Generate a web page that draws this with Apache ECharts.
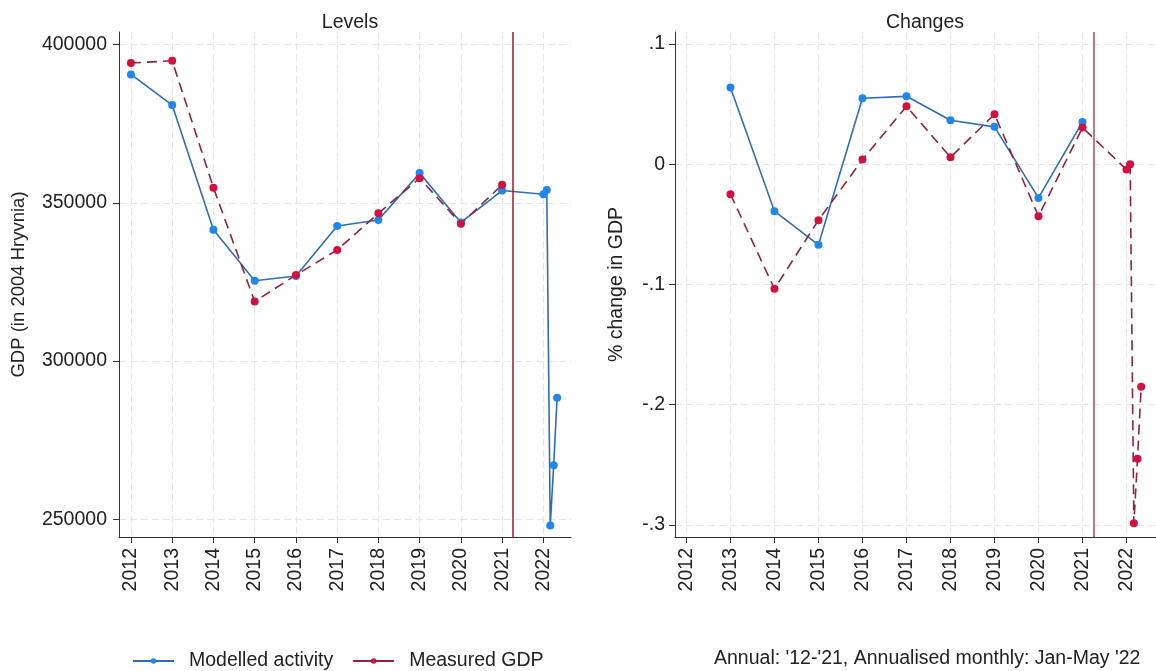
<!DOCTYPE html>
<html>
<head>
<meta charset="utf-8">
<script src="https://cdn.jsdelivr.net/npm/echarts@6/dist/echarts.min.js"></script>
<style>
  html, body { margin: 0; padding: 0; background: #fff; }
  #chart { width: 1156px; height: 671px; }
</style>
</head>
<body>
<div id="chart"></div>
<script>
// x positions: annual points, then monthly 2022 points (Jan-May)
var years = [2012, 2013, 2014, 2015, 2016, 2017, 2018, 2019, 2020, 2021];
var changeYears = [2013, 2014, 2015, 2016, 2017, 2018, 2019, 2020, 2021];
var months2022 = [2022.0, 2022.083, 2022.167, 2022.25, 2022.333];

// tick labels
var yearTicks = [2012, 2013, 2014, 2015, 2016, 2017, 2018, 2019, 2020, 2021, 2022];
var levelTicks = [250000, 300000, 350000, 400000];
var changeTicks = [-0.3, -0.2, -0.1, 0, 0.1];

// Levels (GDP in 2004 Hryvnia)
var levelsModelled = [390600, 380900, 341500, 325400, 326900, 342700, 344600, 359400, 343800, 353900];
var levelsModelled2022 = [352700, 354100, 248000, 267100, 288400];
var levelsMeasured = [394200, 394900, 354800, 318800, 327200, 335100, 346700, 357800, 343400, 355700];

// Changes (% change in GDP)
var changesModelled = [0.0638, -0.039, -0.067, 0.0549, 0.0565, 0.0366, 0.0311, -0.028, 0.0352];
var changesMeasured = [-0.0249, -0.1036, -0.0465, 0.0039, 0.0482, 0.0058, 0.0416, -0.0432, 0.0305];
var changesMeasured2022 = [-0.0044, 0.0, -0.2986, -0.245, -0.185];

var cutoff = 2021.25;

function pairs(xs, ys) {
    return xs.map(function (x, i) { return [x, ys[i]]; });
}

var chartDom = document.getElementById('chart');
var myChart = echarts.init(chartDom);
var option;

var font = 'Liberation Sans, Arial, sans-serif';
var fs = 19.5;
var blueDot = '#1f87ea', blueLine = '#2f6db5';
var redDot = '#d3103f', redLine = '#8e2340';
var gridLine = { show: true, lineStyle: { color: '#e6e6e6', width: 1, type: [7, 4] } };

function xAxisFor(gridIndex, min) {
    return {
        type: 'value', gridIndex: gridIndex, min: min, max: 2022.67,
        axisLine: { show: true, onZero: false, lineStyle: { color: '#333', width: 1 } },
        axisTick: { show: true, length: 6, lineStyle: { color: '#333' }, customValues: yearTicks },
        axisLabel: {
            customValues: yearTicks, rotate: 90, margin: 11, fontSize: fs, color: '#222',
            formatter: function (v) { return String(v); }
        },
        splitLine: gridLine
    };
}

function markCutoff(color) {
    return {
        silent: true, symbol: 'none', animation: false,
        label: { show: false },
        lineStyle: { color: color, width: 1.5, type: 'solid' },
        data: [{ xAxis: cutoff }]
    };
}

option = {
    animation: false,
    textStyle: { fontFamily: font },
    title: [
        { text: 'Levels', left: 345, top: 8, textAlign: 'center',
          textStyle: { fontSize: fs, fontWeight: 'normal', color: '#222' } },
        { text: 'Changes', left: 920, top: 8, textAlign: 'center',
          textStyle: { fontSize: fs, fontWeight: 'normal', color: '#222' } },
        { text: "Annual: '12-'21, Annualised monthly: Jan-May '22", left: 709, top: 644,
          textStyle: { fontSize: fs, fontWeight: 'normal', color: '#222' } }
    ],
    legend: {
        left: 127, top: 646, itemWidth: 41, itemHeight: 7, itemGap: 19,
        lineStyle: { type: 'solid' },
        textStyle: { fontSize: fs, color: '#222', padding: [0, 0, 0, 10] },
        data: ['Modelled activity', 'Measured GDP']
    },
    grid: [
        { left: 119, top: 32, width: 452, height: 505 },
        { left: 675, top: 32, width: 490, height: 505 }
    ],
    xAxis: [xAxisFor(0, 2011.71), xAxisFor(1, 2011.74)],
    yAxis: [
        {
            type: 'value', gridIndex: 0, min: 244400, max: 404000,
            name: 'GDP (in 2004 Hryvnia)', nameLocation: 'middle', nameGap: 91,
            nameTextStyle: { fontSize: 18.5, color: '#222' },
            axisLine: { show: true, lineStyle: { color: '#333', width: 1 } },
            axisTick: { show: true, length: 6, lineStyle: { color: '#333' }, customValues: levelTicks },
            axisLabel: { customValues: levelTicks, margin: 12, fontSize: fs, color: '#222',
                formatter: function (v) { return String(v); } },
            splitLine: gridLine
        },
        {
            type: 'value', gridIndex: 1, min: -0.31, max: 0.11,
            name: '% change in GDP', nameLocation: 'middle', nameGap: 48,
            nameTextStyle: { fontSize: fs, color: '#222' },
            axisLine: { show: true, lineStyle: { color: '#333', width: 1 } },
            axisTick: { show: true, length: 6, lineStyle: { color: '#333' }, customValues: changeTicks },
            axisLabel: { customValues: changeTicks, margin: 10, fontSize: fs, color: '#222',
                formatter: function (v) { return String(v).replace('0.', '.'); } },
            splitLine: gridLine
        }
    ],
    series: [
        {
            name: 'Modelled activity', type: 'line', xAxisIndex: 0, yAxisIndex: 0,
            data: pairs(years, levelsModelled).concat(pairs(months2022, levelsModelled2022)),
            symbol: 'circle', symbolSize: 8,
            itemStyle: { color: blueDot },
            lineStyle: { color: blueLine, width: 1.6 },
            markLine: markCutoff('#a3192e')
        },
        {
            name: 'Measured GDP', type: 'line', xAxisIndex: 0, yAxisIndex: 0,
            data: pairs(years, levelsMeasured),
            symbol: 'circle', symbolSize: 8,
            itemStyle: { color: redDot },
            lineStyle: { color: redLine, width: 1.6, type: [10, 6] }
        },
        {
            name: 'Modelled activity', type: 'line', xAxisIndex: 1, yAxisIndex: 1,
            data: pairs(changeYears, changesModelled),
            symbol: 'circle', symbolSize: 8,
            itemStyle: { color: blueDot },
            lineStyle: { color: blueLine, width: 1.6 },
            markLine: markCutoff('#b0475a')
        },
        {
            name: 'Measured GDP', type: 'line', xAxisIndex: 1, yAxisIndex: 1,
            data: pairs(changeYears, changesMeasured).concat(pairs(months2022, changesMeasured2022)),
            symbol: 'circle', symbolSize: 8,
            itemStyle: { color: redDot },
            lineStyle: { color: redLine, width: 1.6, type: [10, 6] }
        }
    ]
};

option && myChart.setOption(option);
</script>
</body>
</html>
